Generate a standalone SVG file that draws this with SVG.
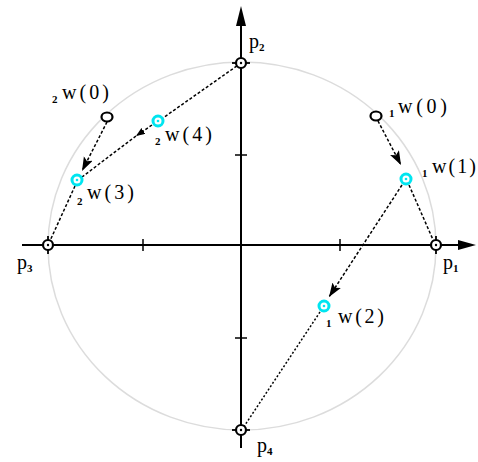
<svg xmlns="http://www.w3.org/2000/svg" width="478" height="462" viewBox="0 0 478 462">
<style>
.axis{stroke:#000;stroke-width:2;fill:none}
.tick{stroke:#000;stroke-width:1.5}
.circ{fill:none;stroke:#dcdcdc;stroke-width:1.5}
.dash{stroke:#000;stroke-width:1.5;stroke-dasharray:3 2;fill:none}
.dot{stroke:#000;stroke-width:1.5;stroke-dasharray:2 2;fill:none}
.pt{fill:#fff;stroke:#000;stroke-width:2.2}
.cross{stroke:#000;stroke-width:1.8}
.cy{fill:#fff;stroke:#00e5f0;stroke-width:3}
.cyc{fill:#00e5f0}
.w0{fill:#fff;stroke:#000;stroke-width:2.2}
.lbl{font-family:"Liberation Serif","DejaVu Serif",serif;font-size:20px;fill:#000}
.sub{font-family:"Liberation Serif","DejaVu Serif",serif;font-size:11px;fill:#000;font-weight:bold}
</style>
<defs>
<marker id="ah" markerUnits="userSpaceOnUse" markerWidth="16" markerHeight="12" refX="14" refY="5" orient="auto">
<path d="M0,0 L14,5 L0,10 L3,5 z" fill="#000" stroke="none"/>
</marker>
<marker id="ahs" markerUnits="userSpaceOnUse" markerWidth="10" markerHeight="8" refX="9" refY="3.5" orient="auto">
<path d="M0,0 L9,3.5 L0,7 z" fill="#000" stroke="none"/>
</marker>
</defs>
<rect width="478" height="462" fill="#fff"/>
<g id="circle"><ellipse class="circ" cx="242" cy="246" rx="194" ry="184"/></g>
<g id="axes">
<line class="axis" x1="22" y1="245" x2="462" y2="245"/>
<polygon points="476,245 458,240 458,250" fill="#000"/>
<line class="axis" x1="241" y1="24" x2="241" y2="448"/>
<polygon points="241,6 236,26 246,26" fill="#000"/>
<line class="tick" x1="143" y1="239" x2="143" y2="251"/>
<line class="tick" x1="340" y1="239" x2="340" y2="251"/>
<line class="tick" x1="235" y1="155" x2="247" y2="155"/>
<line class="tick" x1="235" y1="338" x2="247" y2="338"/>
</g>
<g id="connectors">
<line class="dash" x1="107" y1="122" x2="82" y2="171" marker-end="url(#ah)"/>
<line class="dash" x1="241" y1="63" x2="163" y2="118"/>
<line class="dash" x1="152" y1="125" x2="136" y2="136" marker-end="url(#ahs)"/>
<line class="dash" x1="136" y1="136" x2="82" y2="177"/>
<line class="dash" x1="75" y1="186" x2="49" y2="243"/>
<line class="dash" x1="378" y1="121" x2="401" y2="165" marker-end="url(#ah)"/>
<line class="dash" x1="409" y1="185" x2="434" y2="242"/>
<line class="dash" x1="402" y1="185" x2="329" y2="297" marker-end="url(#ah)"/>
<line class="dot" x1="320" y1="312" x2="243" y2="428"/>
</g>
<g id="p1">
<line class="cross" x1="436" y1="236" x2="436" y2="254"/>
<circle class="pt" cx="436" cy="245" r="5"/><circle cx="436" cy="245" r="1.2"/>
<text class="lbl" x="443" y="269">p</text><text class="sub" x="453" y="272">1</text>
</g>
<g id="p2">
<line class="cross" x1="232" y1="63" x2="250" y2="63"/>
<circle class="pt" cx="241" cy="63" r="5"/><circle cx="241" cy="63" r="1.2"/>
<text class="lbl" x="249" y="48">p</text><text class="sub" x="259" y="51">2</text>
</g>
<g id="p3">
<line class="cross" x1="48" y1="236" x2="48" y2="254"/>
<circle class="pt" cx="48" cy="245" r="5"/><circle cx="48" cy="245" r="1.2"/>
<text class="lbl" x="17" y="269">p</text><text class="sub" x="27" y="272">3</text>
</g>
<g id="p4">
<line class="cross" x1="232" y1="430" x2="250" y2="430"/>
<circle class="pt" cx="241" cy="430" r="5"/><circle cx="241" cy="430" r="1.2"/>
<text class="lbl" x="257" y="452">p</text><text class="sub" x="267" y="455">4</text>
</g>
<g id="w2-0">
<ellipse class="w0" cx="107" cy="117" rx="5.5" ry="4.5"/>
<text class="sub" x="52" y="103">2</text>
<text class="lbl" x="62" y="99" textLength="47" lengthAdjust="spacing">w(0)</text>
</g>
<g id="w2-4">
<circle class="cy" cx="158" cy="121" r="5"/><circle class="cyc" cx="158" cy="121" r="1.3"/>
<text class="sub" x="155" y="145">2</text>
<text class="lbl" x="165" y="141" textLength="47" lengthAdjust="spacing">w(4)</text>
</g>
<g id="w2-3">
<circle class="cy" cx="77" cy="180" r="5"/><circle class="cyc" cx="77" cy="180" r="1.3"/>
<text class="sub" x="77" y="205">2</text>
<text class="lbl" x="87" y="199" textLength="47" lengthAdjust="spacing">w(3)</text>
</g>
<g id="w1-0">
<ellipse class="w0" cx="376" cy="116" rx="5.5" ry="4.5"/>
<text class="sub" x="389" y="117">1</text>
<text class="lbl" x="398" y="113" textLength="49" lengthAdjust="spacing">w(0)</text>
</g>
<g id="w1-1">
<circle class="cy" cx="406" cy="179" r="5"/><circle class="cyc" cx="406" cy="179" r="1.3"/>
<text class="sub" x="422" y="177">1</text>
<text class="lbl" x="432" y="173" textLength="44" lengthAdjust="spacing">w(1)</text>
</g>
<g id="w1-2">
<circle class="cy" cx="324" cy="306" r="5"/><circle class="cyc" cx="324" cy="306" r="1.3"/>
<text class="sub" x="326" y="327">1</text>
<text class="lbl" x="338" y="323" textLength="46" lengthAdjust="spacing">w(2)</text>
</g>
</svg>
